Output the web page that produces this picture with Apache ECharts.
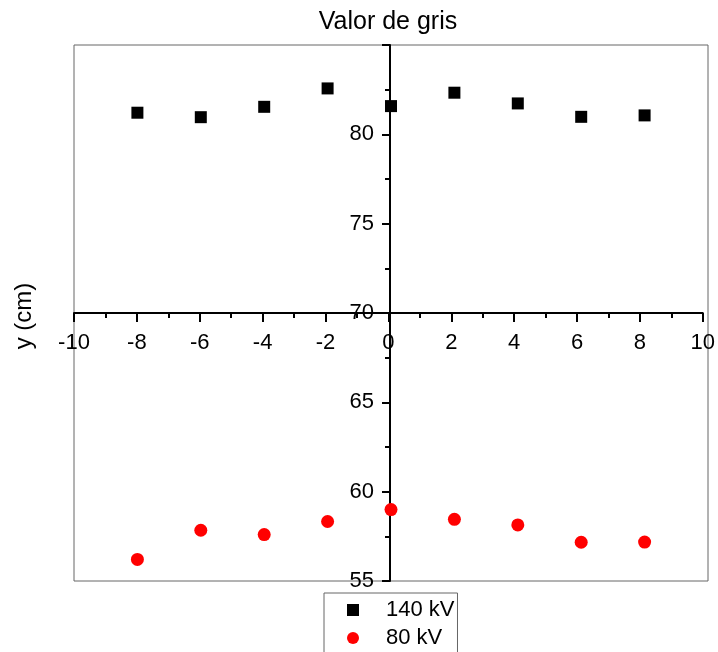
<!DOCTYPE html>
<html>
<head>
<meta charset="utf-8">
<script src="https://cdn.jsdelivr.net/npm/echarts@6/dist/echarts.min.js"></script>
<style>
html,body{margin:0;padding:0;background:#fff;}
#chart{width:718px;height:652px;}
</style>
</head>
<body>
<div id="chart"></div>
<script>
const xValues = [-8, -6, -4, -2, 0, 2, 4, 6, 8];
const kv140 = [81.21, 80.96, 81.54, 82.57, 81.58, 82.33, 81.73, 80.98, 81.06];
const kv80 = [56.21, 57.84, 57.60, 58.33, 59.00, 58.45, 58.14, 57.17, 57.18];
const seriesNames = ['140 kV', '80 kV'];
const titleText = 'Valor de gris';
const yName = 'y (cm)';

const FONT = 'Liberation Sans, Arial, sans-serif';
const chart = echarts.init(document.getElementById('chart'));

const pairs = arr => xValues.map((x, i) => [x, arr[i]]);

chart.setOption({
  animation: false,
  backgroundColor: '#fff',
  title: {
    text: titleText,
    left: 388, top: 10, textAlign: 'center', padding: 0,
    textStyle: { fontFamily: FONT, fontSize: 25, fontWeight: 'normal', color: '#000' }
  },
  graphic: [{
    type: 'text', x: 24, y: 316, rotation: Math.PI / 2,
    style: { text: yName, font: '24px ' + FONT, fill: '#000', textAlign: 'center', textVerticalAlign: 'middle' }
  }],
  legend: {
    data: seriesNames,
    orient: 'vertical',
    left: 324, top: 593, height: 120,
    padding: [6, 3, 6, 23],
    itemGap: 6, itemWidth: 12, itemHeight: 12,
    borderColor: '#666', borderWidth: 1,
    textStyle: { fontFamily: FONT, fontSize: 22, lineHeight: 22, color: '#000', padding: [0, 0, 0, 22] }
  },
  grid: [
    { left: 74, top: 45, width: 634, height: 536, show: true, borderColor: '#666', borderWidth: 1, backgroundColor: 'transparent' },
    { left: 74, top: 45, width: 634, height: 268, show: false },
    { left: 390, top: 45, width: 318, height: 536, show: false }
  ],
  xAxis: [
    { type: 'value', gridIndex: 0, min: -10, max: 10, show: false },
    {
      type: 'value', gridIndex: 1, min: -10, max: 10, interval: 2, position: 'bottom',
      axisLine: { show: true, onZero: false, lineStyle: { color: '#000', width: 2 } },
      axisTick: { show: true, length: 9, lineStyle: { color: '#000', width: 2 } },
      minorTick: { show: true, splitNumber: 2, length: 5, lineStyle: { color: '#000', width: 2 } },
      splitLine: { show: false },
      axisLabel: { show: true, margin: 19, fontFamily: FONT, fontSize: 22, color: '#000', showMinLabel: true, showMaxLabel: true, hideOverlap: false }
    },
    { type: 'value', gridIndex: 2, min: 0, max: 10, show: false }
  ],
  yAxis: [
    { type: 'value', gridIndex: 0, min: 55, max: 85, show: false },
    { type: 'value', gridIndex: 1, min: 70, max: 85, show: false },
    {
      type: 'value', gridIndex: 2, min: 55, max: 85, interval: 5, position: 'left',
      axisLine: { show: true, onZero: false, lineStyle: { color: '#000', width: 2 } },
      axisTick: { show: true, length: 8, lineStyle: { color: '#000', width: 2 } },
      minorTick: { show: true, splitNumber: 2, length: 5, lineStyle: { color: '#000', width: 2 } },
      splitLine: { show: false },
      axisLabel: { show: true, margin: 16, fontFamily: FONT, fontSize: 22, color: '#000', showMaxLabel: false, showMinLabel: true }
    }
  ],
  series: [
    {
      name: seriesNames[0], type: 'scatter', xAxisIndex: 0, yAxisIndex: 0,
      symbol: 'rect', symbolSize: 12, itemStyle: { color: '#000', opacity: 1 },
      data: pairs(kv140), z: 5
    },
    {
      name: seriesNames[1], type: 'scatter', xAxisIndex: 0, yAxisIndex: 0,
      symbol: 'circle', symbolSize: 13, itemStyle: { color: '#ff0000', opacity: 1 },
      data: pairs(kv80), z: 5
    }
  ]
});
</script>
</body>
</html>
